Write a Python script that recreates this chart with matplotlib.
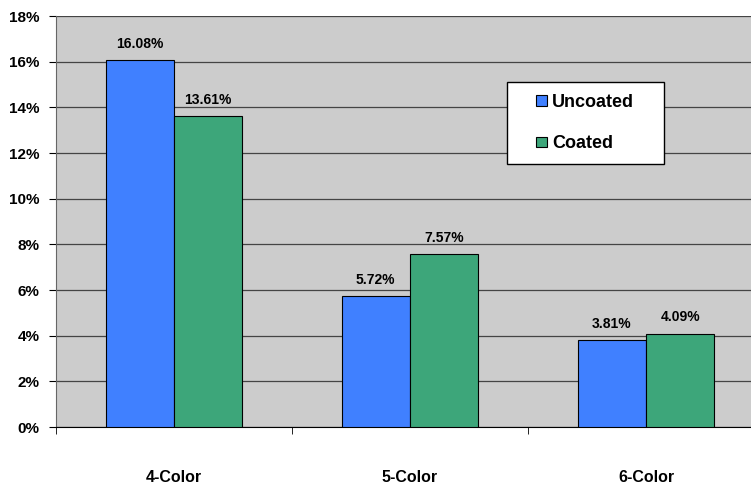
import numpy as np
import matplotlib.pyplot as plt
from matplotlib.patches import Rectangle
from matplotlib.legend_handler import HandlerPatch, update_from_first_child

categories = ['4-Color', '5-Color', '6-Color']
uncoated = [16.08, 5.72, 3.81]
coated = [13.61, 7.57, 4.09]

plt.rcParams['font.family'] = ['Liberation Sans', 'DejaVu Sans']
plt.rcParams['font.weight'] = 'bold'

fig = plt.figure(figsize=(7.51, 4.86), dpi=100)
# the plot area runs a bit past the right edge of the picture
ax = fig.add_axes([56 / 751, 1 - 427 / 486, 708 / 751, 411 / 486])
ax.set_facecolor('#CCCCCC')

x = np.arange(len(categories))
w = 0.29
b1 = ax.bar(x - w / 2, uncoated, w, color='#4080FF', edgecolor='black', linewidth=0.8,
            label='Uncoated', zorder=3)
b2 = ax.bar(x + w / 2, coated, w, color='#3DA67A', edgecolor='black', linewidth=0.8,
            label='Coated', zorder=3)

for bars, vals in ((b1, uncoated), (b2, coated)):
    for r, v in zip(bars, vals):
        ax.text(r.get_x() + r.get_width() / 2, v + 0.4, f'{v:.2f}%', ha='center',
                va='bottom', fontsize=10, fontweight='bold')

ax.set_ylim(0, 18)
ax.set_xlim(-0.5, 2.5)
ax.set_yticks(np.arange(0, 19, 2))
ax.set_yticklabels([f'{t}%' for t in range(0, 19, 2)], fontsize=11, fontweight='bold')
ax.yaxis.grid(True, color='#444444', linewidth=0.9, zorder=0)
ax.set_axisbelow(True)

ax.set_xticks(x)
ax.set_xticklabels(categories, fontsize=11.5, fontweight='bold')
ax.tick_params(axis='x', length=0, pad=31)
ax.set_xticks([-0.5, 0.5, 1.5, 2.5], minor=True)
ax.tick_params(axis='x', which='minor', length=5, direction='out', color='black')
ax.tick_params(axis='y', length=5, direction='out', color='black', pad=7)

for s in ['top', 'right']:
    ax.spines[s].set_visible(False)
ax.spines['left'].set_color('#666666')
ax.spines['bottom'].set_color('black')


def square_handle(legend, orig_handle, xdescent, ydescent, width, height, fontsize):
    s = 0.6 * fontsize
    return Rectangle((width - s - xdescent, (height - s) / 2 - ydescent), s, s)


sq = HandlerPatch(patch_func=square_handle, update_func=update_from_first_child)
fsz = 13
leg = ax.legend(loc='upper left',
                bbox_to_anchor=(451 / 708, (427 - 163) / 411, 157 / 708, 81 / 411),
                mode='expand', borderaxespad=0, fontsize=fsz,
                frameon=True, fancybox=False, edgecolor='black', framealpha=1,
                handlelength=1.55, handleheight=0.7, handletextpad=0.28,
                labelspacing=1.35, borderpad=0.66, prop={'weight': 'bold', 'size': fsz},
                handler_map={b1: sq, b2: sq})
leg.get_frame().set_linewidth(1.0)

fig.savefig('out.png', dpi=100)
